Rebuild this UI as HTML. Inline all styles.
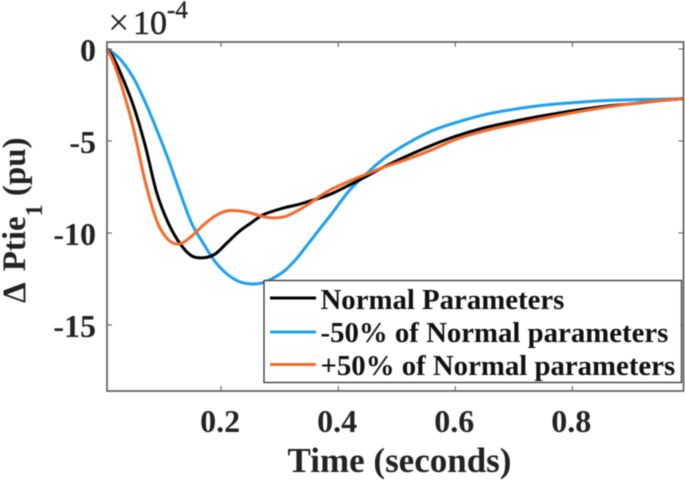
<!DOCTYPE html>
<html>
<head>
<meta charset="utf-8">
<style>
html,body{margin:0;padding:0;background:#fff;}
body{width:685px;height:481px;overflow:hidden;}
svg{display:block;font-family:"Liberation Serif",serif;font-weight:bold;filter:blur(0.55px);}
</style>
</head>
<body>
<svg id="chart" width="685" height="481" viewBox="0 0 685 481" xmlns="http://www.w3.org/2000/svg"></svg>
<script>
const times = [0.005,0.015,0.03,0.05,0.07,0.09,0.11,0.13,0.15,0.17,0.19,0.21,0.23,0.25,0.27,0.29,0.31,0.33,0.35,0.37,0.39,0.42,0.45,0.48,0.52,0.56,0.6,0.65,0.7,0.75,0.8,0.85,0.9,0.95,0.99];
const normalValues = [0,-0.42,-1.45,-3.08,-5.21,-7.82,-9.48,-10.59,-11.25,-11.35,-11.14,-10.54,-9.94,-9.48,-9.04,-8.80,-8.61,-8.47,-8.28,-8.09,-7.85,-7.38,-6.89,-6.38,-5.78,-5.23,-4.75,-4.28,-3.93,-3.63,-3.36,-3.14,-2.98,-2.81,-2.70];
const minus50Values = [0,-0.20,-0.64,-1.56,-2.87,-4.39,-6.02,-7.82,-9.50,-10.59,-11.57,-12.23,-12.63,-12.77,-12.72,-12.44,-12.01,-11.35,-10.54,-9.72,-8.91,-7.66,-6.73,-5.91,-5.10,-4.45,-4.01,-3.57,-3.28,-3.06,-2.92,-2.81,-2.76,-2.73,-2.70];
const plus50Values = [0,-0.64,-2.00,-4.28,-7.17,-9.34,-10.38,-10.59,-10.16,-9.56,-9.07,-8.80,-8.80,-8.91,-9.10,-9.18,-9.10,-8.80,-8.42,-7.98,-7.60,-7.17,-6.78,-6.40,-5.97,-5.48,-4.93,-4.45,-4.09,-3.77,-3.47,-3.20,-2.98,-2.81,-2.70];
const xTicks = [0.2,0.4,0.6,0.8];
const xTickLabels = ["0.2","0.4","0.6","0.8"];
const yTicks = [0,-5,-10,-15];
const yTickLabels = ["0","-5","-10","-15"];
const legendLabels = ["Normal Parameters","-50% of Normal parameters","+50% of Normal parameters"];

const NS = "http://www.w3.org/2000/svg";
const svg = document.getElementById("chart");
const L = 107, R = 683.5, T = 42, B = 391;
const xMin = 0.005, xMax = 0.99, yMin = -18.59, yMax = 0.38;
function xScale(t){ return L + (t - xMin) / (xMax - xMin) * (R - L); }
function yScale(v){ return B - (v - yMin) / (yMax - yMin) * (B - T); }
function make(tag, attrs, parent){
  const el = document.createElementNS(NS, tag);
  for (const k in attrs) el.setAttribute(k, attrs[k]);
  (parent || svg).appendChild(el);
  return el;
}
function smoothPath(xs, ys){
  let d = "M" + xs[0].toFixed(2) + " " + ys[0].toFixed(2);
  for (let i = 0; i < xs.length - 1; i++){
    const i0 = Math.max(i - 1, 0), i3 = Math.min(i + 2, xs.length - 1);
    const c1x = xs[i] + (xs[i + 1] - xs[i0]) / 6, c1y = ys[i] + (ys[i + 1] - ys[i0]) / 6;
    const c2x = xs[i + 1] - (xs[i3] - xs[i]) / 6, c2y = ys[i + 1] - (ys[i3] - ys[i]) / 6;
    d += "C" + c1x.toFixed(2) + " " + c1y.toFixed(2) + " " + c2x.toFixed(2) + " " + c2y.toFixed(2) + " " + xs[i + 1].toFixed(2) + " " + ys[i + 1].toFixed(2);
  }
  return d;
}

const axisColor = "#555";
const textColor = "#222";

// series
const blueLine = make("path", {d: smoothPath(times.map(xScale), minus50Values.map(yScale)), fill: "none", stroke: "#1ea0f0", "stroke-width": 3});


const blackLine = make("path", {d: smoothPath(times.map(xScale), normalValues.map(yScale)), fill: "none", stroke: "#000", "stroke-width": 3});


const orangeLine = make("path", {d: smoothPath(times.map(xScale), plus50Values.map(yScale)), fill: "none", stroke: "#f26b2e", "stroke-width": 3});



// axes box
const box = make("rect", {x: L, y: T, width: R - L, height: B - T, fill: "none", stroke: axisColor, "stroke-width": 1.6});



// x ticks
xTicks.forEach(function(t, i){
  const x = xScale(t);
  const tb = make("line", {x1: x, x2: x, y1: B, y2: B - 5, stroke: axisColor, "stroke-width": 1});
  
  
  const tt = make("line", {x1: x, x2: x, y1: T, y2: T + 5, stroke: axisColor, "stroke-width": 1});
  
  
  const lab = make("text", {x: x - 1, y: 432, "text-anchor": "middle", "font-size": 32, fill: textColor});
  
  
  lab.textContent = xTickLabels[i];
});

// y ticks
yTicks.forEach(function(v, i){
  const y = yScale(v);
  const tl = make("line", {x1: L, x2: L + 5, y1: y, y2: y, stroke: axisColor, "stroke-width": 1});
  
  
  const tr = make("line", {x1: R, x2: R - 5, y1: y, y2: y, stroke: axisColor, "stroke-width": 1});
  
  
  const lab = make("text", {x: 96, y: y + 12, "text-anchor": "end", "font-size": 32, fill: textColor});
  
  
  lab.textContent = yTickLabels[i];
});

// legend
const legendBox = make("rect", {x: 264, y: 280.5, width: 417.5, height: 102, fill: "#fff", stroke: "#333", "stroke-width": 1.3});


const legendColors = ["#000", "#1ea0f0", "#f26b2e"];
const legendRows = [298, 332, 364.5];
legendLabels.forEach(function(label, i){
  const h = make("line", {x1: 270, x2: 316, y1: legendRows[i], y2: legendRows[i], stroke: legendColors[i], "stroke-width": 3});
  
  
  const t = make("text", {x: 320.5, y: 309 + 33 * i, "font-size": 28.8, fill: "#111"});
  
  
  t.textContent = label;
});

const xTitle = make("text", {x: 399.5, y: 472, "text-anchor": "middle", "font-size": 35, fill: textColor});


xTitle.textContent = "Time (seconds)";

const yTitle = make("text", {transform: "translate(25,303) rotate(-90)", "font-size": 33, fill: textColor});


yTitle.appendChild(document.createTextNode("\u0394"));
const yMain = make("tspan", {dx: 11}, yTitle);
yMain.textContent = "Ptie";
const ySub = make("tspan", {dy: 17, "font-size": 24}, yTitle);
ySub.textContent = "1";
const yRest = make("tspan", {dy: -17}, yTitle);
yRest.textContent = " (pu)";

const expoSign = make("text", {x: 108, y: 35, "font-size": 38, fill: textColor, "font-weight": "normal"});


expoSign.textContent = "\u00D7";
const expoBase = make("text", {x: 133, y: 34, "font-size": 34, fill: textColor, stroke: textColor, "stroke-width": 0.5, "font-weight": "normal"});


expoBase.textContent = "10";
const expoPower = make("text", {x: 167, y: 18, "font-size": 25, fill: textColor, stroke: textColor, "stroke-width": 0.4, "font-weight": "normal"});


expoPower.textContent = "-4";
</script>
</body>
</html>
